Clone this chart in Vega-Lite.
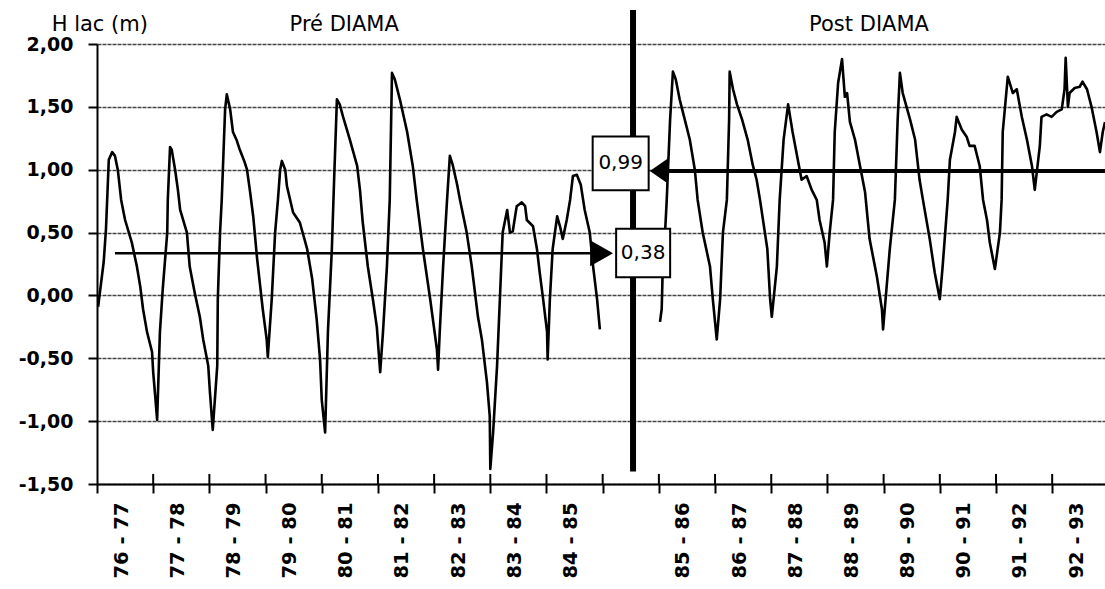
{
  "$schema": "https://vega.github.io/schema/vega-lite/v6.json",
  "width": 1008,
  "height": 440,
  "autosize": "none",
  "padding": {"left": 97, "top": 44, "right": 0, "bottom": 105},
  "background": "white",
  "config": {
    "view": {"stroke": null},
    "axis": {"labelColor": "black", "domainColor": "black", "tickColor": "black"}
  },
  "datasets": {
    "level": [
      {"t":0.02,"h":-0.09,"s":"pre"},{"t":0.07,"h":0.09,"s":"pre"},{"t":0.12,"h":0.27,"s":"pre"},{"t":0.16,"h":0.53,"s":"pre"},{"t":0.21,"h":1.08,"s":"pre"},{"t":0.27,"h":1.14,"s":"pre"},{"t":0.32,"h":1.11,"s":"pre"},{"t":0.37,"h":1.0,"s":"pre"},{"t":0.43,"h":0.76,"s":"pre"},{"t":0.5,"h":0.6,"s":"pre"},{"t":0.62,"h":0.42,"s":"pre"},{"t":0.71,"h":0.23,"s":"pre"},{"t":0.77,"h":0.07,"s":"pre"},{"t":0.82,"h":-0.11,"s":"pre"},{"t":0.89,"h":-0.29,"s":"pre"},{"t":0.98,"h":-0.45,"s":"pre"},{"t":1.0,"h":-0.61,"s":"pre"},{"t":1.03,"h":-0.77,"s":"pre"},{"t":1.07,"h":-0.99,"s":"pre"},
      {"t":1.12,"h":-0.29,"s":"pre"},{"t":1.17,"h":0.05,"s":"pre"},{"t":1.25,"h":0.5,"s":"pre"},{"t":1.26,"h":0.76,"s":"pre"},{"t":1.3,"h":1.18,"s":"pre"},{"t":1.33,"h":1.16,"s":"pre"},{"t":1.39,"h":1.0,"s":"pre"},{"t":1.44,"h":0.84,"s":"pre"},{"t":1.48,"h":0.68,"s":"pre"},{"t":1.6,"h":0.5,"s":"pre"},{"t":1.65,"h":0.23,"s":"pre"},{"t":1.74,"h":0.02,"s":"pre"},{"t":1.83,"h":-0.17,"s":"pre"},{"t":1.89,"h":-0.35,"s":"pre"},{"t":1.98,"h":-0.56,"s":"pre"},{"t":2.01,"h":-0.77,"s":"pre"},{"t":2.06,"h":-1.07,"s":"pre"},
      {"t":2.14,"h":-0.56,"s":"pre"},{"t":2.15,"h":-0.03,"s":"pre"},{"t":2.19,"h":0.5,"s":"pre"},{"t":2.22,"h":0.76,"s":"pre"},{"t":2.28,"h":1.48,"s":"pre"},{"t":2.31,"h":1.6,"s":"pre"},{"t":2.37,"h":1.48,"s":"pre"},{"t":2.42,"h":1.3,"s":"pre"},{"t":2.49,"h":1.23,"s":"pre"},{"t":2.54,"h":1.16,"s":"pre"},{"t":2.62,"h":1.07,"s":"pre"},{"t":2.67,"h":1.0,"s":"pre"},{"t":2.72,"h":0.84,"s":"pre"},{"t":2.78,"h":0.63,"s":"pre"},{"t":2.85,"h":0.29,"s":"pre"},{"t":2.95,"h":-0.11,"s":"pre"},{"t":3.02,"h":-0.35,"s":"pre"},{"t":3.04,"h":-0.49,"s":"pre"},
      {"t":3.11,"h":-0.03,"s":"pre"},{"t":3.17,"h":0.5,"s":"pre"},{"t":3.22,"h":0.76,"s":"pre"},{"t":3.26,"h":1.0,"s":"pre"},{"t":3.29,"h":1.07,"s":"pre"},{"t":3.35,"h":1.0,"s":"pre"},{"t":3.38,"h":0.87,"s":"pre"},{"t":3.49,"h":0.66,"s":"pre"},{"t":3.61,"h":0.58,"s":"pre"},{"t":3.74,"h":0.37,"s":"pre"},{"t":3.83,"h":0.13,"s":"pre"},{"t":3.91,"h":-0.19,"s":"pre"},{"t":3.97,"h":-0.51,"s":"pre"},{"t":4.0,"h":-0.83,"s":"pre"},{"t":4.06,"h":-1.09,"s":"pre"},
      {"t":4.11,"h":-0.29,"s":"pre"},{"t":4.18,"h":0.37,"s":"pre"},{"t":4.22,"h":0.92,"s":"pre"},{"t":4.27,"h":1.56,"s":"pre"},{"t":4.32,"h":1.52,"s":"pre"},{"t":4.38,"h":1.42,"s":"pre"},{"t":4.5,"h":1.24,"s":"pre"},{"t":4.63,"h":1.03,"s":"pre"},{"t":4.68,"h":0.84,"s":"pre"},{"t":4.73,"h":0.58,"s":"pre"},{"t":4.82,"h":0.23,"s":"pre"},{"t":4.91,"h":-0.03,"s":"pre"},{"t":4.98,"h":-0.25,"s":"pre"},{"t":5.04,"h":-0.61,"s":"pre"},
      {"t":5.09,"h":-0.29,"s":"pre"},{"t":5.16,"h":0.23,"s":"pre"},{"t":5.21,"h":0.76,"s":"pre"},{"t":5.25,"h":1.77,"s":"pre"},{"t":5.3,"h":1.72,"s":"pre"},{"t":5.39,"h":1.56,"s":"pre"},{"t":5.52,"h":1.3,"s":"pre"},{"t":5.62,"h":1.03,"s":"pre"},{"t":5.69,"h":0.76,"s":"pre"},{"t":5.8,"h":0.37,"s":"pre"},{"t":5.93,"h":-0.03,"s":"pre"},{"t":6.05,"h":-0.43,"s":"pre"},{"t":6.07,"h":-0.59,"s":"pre"},
      {"t":6.1,"h":-0.29,"s":"pre"},{"t":6.16,"h":0.23,"s":"pre"},{"t":6.23,"h":0.76,"s":"pre"},{"t":6.28,"h":1.11,"s":"pre"},{"t":6.33,"h":1.04,"s":"pre"},{"t":6.41,"h":0.88,"s":"pre"},{"t":6.46,"h":0.76,"s":"pre"},{"t":6.58,"h":0.5,"s":"pre"},{"t":6.67,"h":0.23,"s":"pre"},{"t":6.78,"h":-0.17,"s":"pre"},{"t":6.85,"h":-0.35,"s":"pre"},{"t":6.94,"h":-0.69,"s":"pre"},{"t":6.99,"h":-0.96,"s":"pre"},{"t":7.0,"h":-1.38,"s":"pre"},
      {"t":7.05,"h":-1.09,"s":"pre"},{"t":7.12,"h":-0.56,"s":"pre"},{"t":7.17,"h":-0.03,"s":"pre"},{"t":7.22,"h":0.5,"s":"pre"},{"t":7.3,"h":0.68,"s":"pre"},{"t":7.35,"h":0.5,"s":"pre"},{"t":7.4,"h":0.51,"s":"pre"},{"t":7.47,"h":0.71,"s":"pre"},{"t":7.56,"h":0.74,"s":"pre"},{"t":7.62,"h":0.71,"s":"pre"},{"t":7.65,"h":0.6,"s":"pre"},{"t":7.76,"h":0.55,"s":"pre"},{"t":7.83,"h":0.37,"s":"pre"},{"t":7.88,"h":0.18,"s":"pre"},{"t":7.94,"h":-0.03,"s":"pre"},{"t":8.01,"h":-0.29,"s":"pre"},{"t":8.02,"h":-0.51,"s":"pre"},
      {"t":8.06,"h":-0.03,"s":"pre"},{"t":8.11,"h":0.37,"s":"pre"},{"t":8.19,"h":0.63,"s":"pre"},{"t":8.24,"h":0.55,"s":"pre"},{"t":8.29,"h":0.45,"s":"pre"},{"t":8.36,"h":0.6,"s":"pre"},{"t":8.42,"h":0.76,"s":"pre"},{"t":8.47,"h":0.95,"s":"pre"},{"t":8.54,"h":0.96,"s":"pre"},{"t":8.61,"h":0.88,"s":"pre"},{"t":8.68,"h":0.68,"s":"pre"},{"t":8.77,"h":0.5,"s":"pre"},{"t":8.83,"h":0.23,"s":"pre"},{"t":8.9,"h":-0.03,"s":"pre"},{"t":8.95,"h":-0.27,"s":"pre"},
      {"t":10.02,"h":-0.21,"s":"post"},{"t":10.05,"h":-0.11,"s":"post"},{"t":10.07,"h":0.23,"s":"post"},{"t":10.11,"h":0.5,"s":"post"},{"t":10.14,"h":0.76,"s":"post"},{"t":10.2,"h":1.4,"s":"post"},{"t":10.25,"h":1.78,"s":"post"},{"t":10.3,"h":1.72,"s":"post"},{"t":10.37,"h":1.56,"s":"post"},{"t":10.46,"h":1.4,"s":"post"},{"t":10.55,"h":1.24,"s":"post"},{"t":10.64,"h":1.0,"s":"post"},{"t":10.69,"h":0.76,"s":"post"},{"t":10.78,"h":0.5,"s":"post"},{"t":10.91,"h":0.23,"s":"post"},{"t":10.96,"h":-0.03,"s":"post"},{"t":11.03,"h":-0.35,"s":"post"},
      {"t":11.09,"h":-0.03,"s":"post"},{"t":11.14,"h":0.5,"s":"post"},{"t":11.21,"h":0.76,"s":"post"},{"t":11.25,"h":1.4,"s":"post"},{"t":11.26,"h":1.78,"s":"post"},{"t":11.32,"h":1.64,"s":"post"},{"t":11.39,"h":1.52,"s":"post"},{"t":11.48,"h":1.4,"s":"post"},{"t":11.58,"h":1.24,"s":"post"},{"t":11.67,"h":1.04,"s":"post"},{"t":11.74,"h":0.92,"s":"post"},{"t":11.8,"h":0.76,"s":"post"},{"t":11.93,"h":0.37,"s":"post"},{"t":11.98,"h":-0.03,"s":"post"},{"t":12.01,"h":-0.17,"s":"post"},
      {"t":12.1,"h":0.23,"s":"post"},{"t":12.15,"h":0.76,"s":"post"},{"t":12.22,"h":1.24,"s":"post"},{"t":12.3,"h":1.52,"s":"post"},{"t":12.38,"h":1.3,"s":"post"},{"t":12.46,"h":1.11,"s":"post"},{"t":12.54,"h":0.92,"s":"post"},{"t":12.63,"h":0.95,"s":"post"},{"t":12.72,"h":0.84,"s":"post"},{"t":12.81,"h":0.76,"s":"post"},{"t":12.86,"h":0.6,"s":"post"},{"t":12.95,"h":0.42,"s":"post"},{"t":12.99,"h":0.23,"s":"post"},
      {"t":13.04,"h":0.5,"s":"post"},{"t":13.1,"h":0.76,"s":"post"},{"t":13.13,"h":1.3,"s":"post"},{"t":13.19,"h":1.69,"s":"post"},{"t":13.26,"h":1.88,"s":"post"},{"t":13.31,"h":1.58,"s":"post"},{"t":13.35,"h":1.61,"s":"post"},{"t":13.4,"h":1.38,"s":"post"},{"t":13.49,"h":1.24,"s":"post"},{"t":13.58,"h":1.03,"s":"post"},{"t":13.67,"h":0.82,"s":"post"},{"t":13.75,"h":0.45,"s":"post"},{"t":13.88,"h":0.15,"s":"post"},{"t":13.97,"h":-0.11,"s":"post"},{"t":13.99,"h":-0.27,"s":"post"},
      {"t":14.11,"h":0.37,"s":"post"},{"t":14.2,"h":0.76,"s":"post"},{"t":14.25,"h":1.4,"s":"post"},{"t":14.29,"h":1.77,"s":"post"},{"t":14.34,"h":1.61,"s":"post"},{"t":14.47,"h":1.4,"s":"post"},{"t":14.56,"h":1.24,"s":"post"},{"t":14.64,"h":0.92,"s":"post"},{"t":14.7,"h":0.76,"s":"post"},{"t":14.82,"h":0.45,"s":"post"},{"t":14.91,"h":0.18,"s":"post"},{"t":15.0,"h":-0.03,"s":"post"},
      {"t":15.05,"h":0.23,"s":"post"},{"t":15.14,"h":0.76,"s":"post"},{"t":15.18,"h":1.08,"s":"post"},{"t":15.27,"h":1.3,"s":"post"},{"t":15.3,"h":1.42,"s":"post"},{"t":15.39,"h":1.32,"s":"post"},{"t":15.48,"h":1.26,"s":"post"},{"t":15.53,"h":1.19,"s":"post"},{"t":15.62,"h":1.19,"s":"post"},{"t":15.71,"h":1.03,"s":"post"},{"t":15.77,"h":0.76,"s":"post"},{"t":15.84,"h":0.6,"s":"post"},{"t":15.89,"h":0.42,"s":"post"},{"t":15.98,"h":0.21,"s":"post"},
      {"t":16.07,"h":0.5,"s":"post"},{"t":16.1,"h":0.76,"s":"post"},{"t":16.12,"h":1.3,"s":"post"},{"t":16.21,"h":1.74,"s":"post"},{"t":16.3,"h":1.61,"s":"post"},{"t":16.37,"h":1.64,"s":"post"},{"t":16.46,"h":1.42,"s":"post"},{"t":16.55,"h":1.24,"s":"post"},{"t":16.64,"h":1.03,"s":"post"},{"t":16.69,"h":0.84,"s":"post"},{"t":16.78,"h":1.19,"s":"post"},{"t":16.81,"h":1.42,"s":"post"},{"t":16.9,"h":1.44,"s":"post"},{"t":16.99,"h":1.42,"s":"post"},{"t":17.08,"h":1.46,"s":"post"},{"t":17.17,"h":1.48,"s":"post"},{"t":17.22,"h":1.64,"s":"post"},{"t":17.24,"h":1.89,"s":"post"},{"t":17.28,"h":1.5,"s":"post"},{"t":17.31,"h":1.61,"s":"post"},{"t":17.4,"h":1.65,"s":"post"},{"t":17.49,"h":1.66,"s":"post"},{"t":17.54,"h":1.7,"s":"post"},{"t":17.62,"h":1.64,"s":"post"},{"t":17.7,"h":1.5,"s":"post"},{"t":17.79,"h":1.3,"s":"post"},{"t":17.85,"h":1.14,"s":"post"},{"t":17.9,"h":1.3,"s":"post"},{"t":17.94,"h":1.38,"s":"post"}
    ],
    "divider": [{"t": 9.54, "top": 2.27, "bottom": -1.4}],
    "means": [
      {"period": "pre", "t1": 0.32, "t2": 8.85, "h": 0.335, "label": "0,38", "bt": 9.72, "bh": 0.338, "at": 8.98},
      {"period": "post", "t1": 10.1, "t2": 17.94, "h": 0.99, "label": "0,99", "bt": 9.32, "bh": 1.05, "at": 10.0}
    ],
    "titles": [
      {"t": 0.05, "h": 2.1, "text": "H lac (m)", "align": "left"},
      {"t": 4.4, "h": 2.1, "text": "Pré DIAMA", "align": "center"},
      {"t": 13.74, "h": 2.1, "text": "Post DIAMA", "align": "center"}
    ],
    "ticks": [{"t":1},{"t":2},{"t":3},{"t":4},{"t":5},{"t":6},{"t":7},{"t":8},{"t":9},{"t":10},{"t":11},{"t":12},{"t":13},{"t":14},{"t":15},{"t":16},{"t":17}]
  },
  "layer": [
    {
      "data": {"name": "level"},
      "mark": {"type": "line", "color": "black", "strokeWidth": 2.6, "strokeJoin": "round"},
      "encoding": {
        "x": {
          "field": "t", "type": "quantitative",
          "scale": {"domain": [0, 17.94], "nice": false, "zero": false},
          "axis": {
            "title": null, "grid": false,
            "values": [0,1,2,3,4,5,6,7,8,9,10,11,12,13,14,15,16,17],
            "labelExpr": "['76 - 77','77 - 78','78 - 79','79 - 80','80 - 81','81 - 82','82 - 83','83 - 84','84 - 85','','85 - 86','86 - 87','87 - 88','88 - 89','89 - 90','90 - 91','91 - 92','92 - 93'][datum.value]",
            "labelAngle": -90, "labelOffset": 24, "labelPadding": 9,
            "labelFont": "DejaVu Sans", "labelFontSize": 19.5, "labelFontWeight": "bold",
            "labelOverlap": false, "labelBound": false, "labelFlush": false,
            "domainWidth": 2, "tickWidth": 2, "tickSize": 9
          }
        },
        "y": {
          "field": "h", "type": "quantitative",
          "scale": {"domain": [-1.5, 2], "nice": false, "zero": false},
          "axis": {
            "title": null,
            "values": [-1.5,-1,-0.5,0,0.5,1,1.5,2],
            "labelExpr": "replace(replace(format(datum.value, '.2f'), '.', ','), '\u2212', '-')",
            "labelFont": "DejaVu Sans", "labelFontSize": 19, "labelFontWeight": "bold",
            "labelPadding": 15, "labelOverlap": false, "labelFlush": false,
            "domainWidth": 2, "tickWidth": 2, "tickSize": 9,
            "grid": true, "gridColor": "#444", "gridDash": [4, 1], "gridWidth": 1.4
          }
        },
        "detail": {"field": "s"}
      }
    },
    {
      "data": {"name": "ticks"},
      "mark": {"type": "rule", "color": "black", "strokeWidth": 2},
      "encoding": {
        "x": {"field": "t", "type": "quantitative"},
        "y": {"datum": -1.5},
        "y2": {"datum": -1.42}
      }
    },
    {
      "data": {"name": "divider"},
      "mark": {"type": "rule", "color": "black", "strokeWidth": 6},
      "encoding": {
        "x": {"field": "t", "type": "quantitative"},
        "y": {"field": "top", "type": "quantitative"},
        "y2": {"field": "bottom"}
      }
    },
    {
      "data": {"name": "means"},
      "mark": {"type": "rule", "color": "black"},
      "encoding": {
        "x": {"field": "t1", "type": "quantitative"},
        "x2": {"field": "t2"},
        "y": {"field": "h", "type": "quantitative"},
        "strokeWidth": {"field": "period", "type": "nominal", "scale": {"domain": ["pre", "post"], "range": [2.5, 4]}, "legend": null}
      }
    },
    {
      "data": {"name": "means"},
      "transform": [{"filter": "datum.period === 'pre'"}],
      "mark": {"type": "point", "shape": "M -0.88,-1 L 0.88,0 L -0.88,1 Z", "size": 676, "filled": true, "color": "black", "opacity": 1},
      "encoding": {
        "x": {"field": "at", "type": "quantitative"},
        "y": {"field": "h", "type": "quantitative"}
      }
    },
    {
      "data": {"name": "means"},
      "transform": [{"filter": "datum.period === 'post'"}],
      "mark": {"type": "point", "shape": "M 0.72,-1 L -0.72,0 L 0.72,1 Z", "size": 625, "filled": true, "color": "black", "opacity": 1},
      "encoding": {
        "x": {"field": "at", "type": "quantitative"},
        "y": {"field": "h", "type": "quantitative"}
      }
    },
    {
      "data": {"name": "means"},
      "transform": [{"filter": "datum.period === 'pre'"}],
      "mark": {"type": "point", "shape": "M -1,-0.9 L 1,-0.9 L 1,0.9 L -1,0.9 Z", "size": 2916, "filled": true, "fill": "white", "stroke": "black", "strokeWidth": 2, "opacity": 1},
      "encoding": {
        "x": {"field": "bt", "type": "quantitative"},
        "y": {"field": "bh", "type": "quantitative"}
      }
    },
    {
      "data": {"name": "means"},
      "transform": [{"filter": "datum.period === 'post'"}],
      "mark": {"type": "point", "shape": "M -1,-0.96 L 1,-0.96 L 1,0.96 L -1,0.96 Z", "size": 3136, "filled": true, "fill": "white", "stroke": "black", "strokeWidth": 2, "opacity": 1},
      "encoding": {
        "x": {"field": "bt", "type": "quantitative"},
        "y": {"field": "bh", "type": "quantitative"}
      }
    },
    {
      "data": {"name": "means"},
      "mark": {"type": "text", "font": "DejaVu Sans", "fontSize": 20, "color": "black", "align": "center", "baseline": "middle"},
      "encoding": {
        "x": {"field": "bt", "type": "quantitative"},
        "y": {"field": "bh", "type": "quantitative"},
        "text": {"field": "label"}
      }
    },
    {
      "data": {"name": "titles"},
      "mark": {"type": "text", "font": "DejaVu Sans", "fontSize": 21, "color": "black", "baseline": "alphabetic"},
      "encoding": {
        "x": {"field": "t", "type": "quantitative"},
        "y": {"field": "h", "type": "quantitative"},
        "text": {"field": "text"},
        "align": {"field": "align"}
      }
    }
  ]
}
